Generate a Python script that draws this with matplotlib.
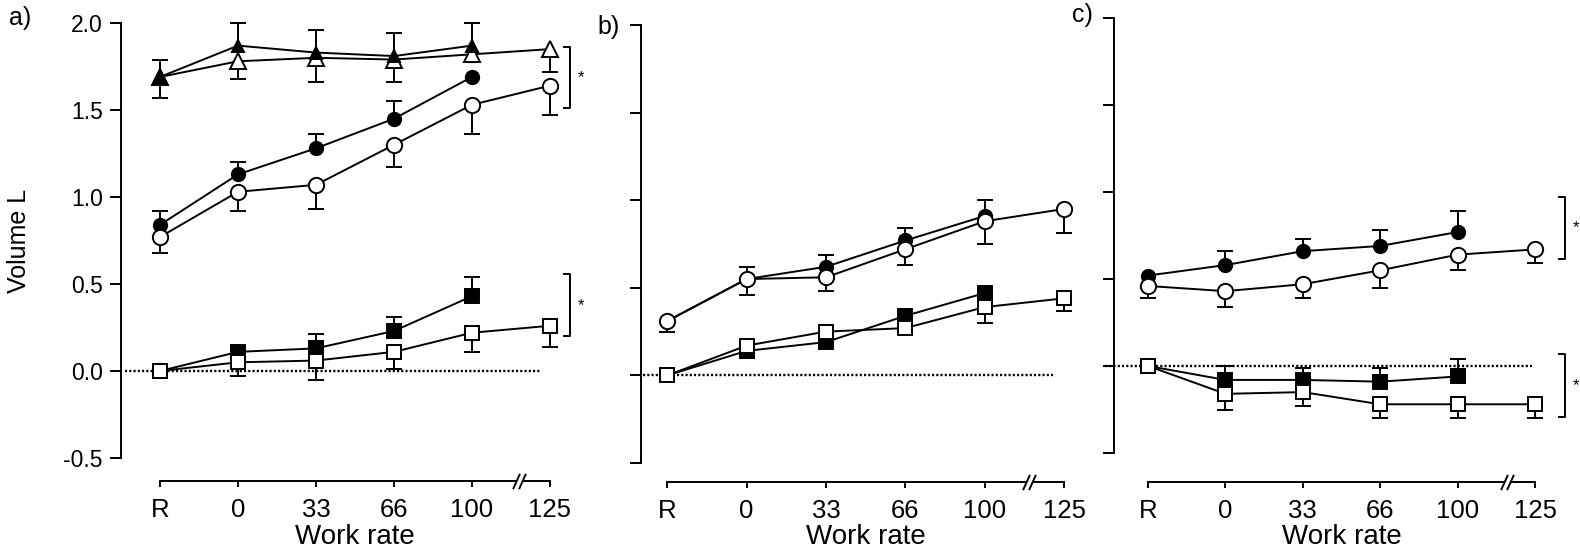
import matplotlib
matplotlib.use('Agg')
import matplotlib.pyplot as plt
import numpy as np
from matplotlib.transforms import blended_transform_factory, ScaledTranslation

plt.rcParams['font.family'] = ['Liberation Sans', 'DejaVu Sans']

nan = np.nan
categories = ['R', '0', '33', '66', '100', '125']
ytick_vals = [-0.5, 0.0, 0.5, 1.0, 1.5, 2.0]
ytick_labels = ['-0.5', '0.0', '0.5', '1.0', '1.5', '2.0']

# ---------------- panel a ----------------
a_tri_closed = [1.69, 1.87, 1.83, 1.81, 1.87]
a_tri_closed_up = [0.10, 0.13, 0.13, 0.13, 0.13]
a_tri_open = [1.69, 1.78, 1.80, 1.79, 1.82, 1.85]
a_tri_open_dn = [0.12, 0.10, 0.14, 0.13, nan, 0.13]
a_circ_closed = [0.84, 1.13, 1.28, 1.45, 1.69]
a_circ_closed_up = [0.08, 0.07, 0.08, 0.10, nan]
a_circ_open = [0.77, 1.03, 1.07, 1.30, 1.53, 1.64]
a_circ_open_dn = [0.09, 0.11, 0.14, 0.13, 0.17, 0.17]
a_sq_closed = [0.0, 0.11, 0.13, 0.23, 0.43]
a_sq_closed_up = [nan, nan, 0.08, 0.08, 0.11]
a_sq_open = [0.0, 0.05, 0.06, 0.11, 0.22, 0.26]
a_sq_open_dn = [nan, 0.08, 0.11, 0.10, 0.11, 0.12]

# ---------------- panel b ----------------
b_circ_closed = [0.31, 0.55, 0.62, 0.77, 0.91]
b_circ_closed_up = [nan, 0.07, 0.07, 0.07, 0.09]
b_circ_open = [0.31, 0.55, 0.56, 0.72, 0.88, 0.95]
b_circ_open_dn = [0.06, 0.09, 0.08, 0.09, 0.13, 0.14]
b_sq_closed = [0.0, 0.14, 0.19, 0.34, 0.47]
b_sq_closed_up = [nan, nan, nan, nan, nan]
b_sq_open = [0.0, 0.17, 0.25, 0.27, 0.39, 0.44]
b_sq_open_dn = [nan, nan, nan, nan, 0.09, 0.07]

# ---------------- panel c ----------------
c_circ_closed = [0.52, 0.58, 0.66, 0.69, 0.77]
c_circ_closed_up = [nan, 0.08, 0.07, 0.09, 0.12]
c_circ_open = [0.46, 0.43, 0.47, 0.55, 0.64, 0.67]
c_circ_open_dn = [0.07, 0.09, 0.08, 0.10, 0.09, 0.08]
c_sq_closed = [0.0, -0.08, -0.08, -0.09, -0.06]
c_sq_closed_up = [nan, 0.08, 0.07, 0.08, 0.10]
c_sq_open = [0.0, -0.16, -0.15, -0.22, -0.22, -0.22]
c_sq_open_dn = [nan, 0.09, 0.08, 0.08, 0.08, 0.08]

W, H, DPI = 15.8, 5.49, 100
fig = plt.figure(figsize=(W, H), dpi=DPI)
LW = 1.4
XLAB_TOP = 524  # px from top where "Work rate" starts


def px_axes(left_px, top_px, bottom_px, xlo, xhi, unit_px):
    width_px = (xhi - xlo) * unit_px
    ax = fig.add_axes([left_px / 1580, 1 - bottom_px / 549,
                       width_px / 1580, (bottom_px - top_px) / 549])
    ax.set_xlim(xlo, xhi)
    ax.set_ylim(-0.5, 2.0)
    ax.patch.set_alpha(0)
    return ax


def errs(ax, y, e, sign):
    y = np.asarray(y, float)
    e = np.asarray(e, float)
    x = np.arange(len(y))
    m = ~np.isnan(e)
    ends = y + sign * e
    ax.vlines(x[m], y[m], ends[m], color='k', lw=LW, zorder=2, clip_on=False)
    ax.plot(x[m], ends[m], ls='none', marker='_', ms=11.5, mew=LW,
            color='k', zorder=2, clip_on=False)


def series(ax, y, marker, filled, ms, z):
    y = np.asarray(y, float)
    x = np.arange(len(y))
    ax.plot(x, y, color='k', lw=LW, marker=marker, ms=ms,
            mfc='k' if filled else 'white', mec='k', mew=LW, zorder=z,
            clip_on=False)


def style(ax, outward_px, show_labels, break_x, unit_px):
    for s in ['top', 'right']:
        ax.spines[s].set_visible(False)
    ax.spines['left'].set_bounds(-0.5, 2.0)
    ax.spines['left'].set_linewidth(LW)
    ax.spines['bottom'].set_linewidth(LW)
    ax.spines['bottom'].set_position(('outward', outward_px * 0.72))
    ax.spines['bottom'].set_bounds(0, 5)
    ax.set_yticks(ytick_vals)
    if show_labels:
        ax.set_yticklabels(ytick_labels, fontsize=16.5)
    else:
        ax.set_yticklabels([])
    ax.set_xticks(range(len(categories)))
    ax.set_xticklabels(categories, fontsize=18.5)
    ax.tick_params(axis='y', direction='out', length=8, width=LW, pad=5)
    ax.tick_params(axis='x', direction='out', length=4.3, width=LW, pad=8)
    # axis break marks
    trans = blended_transform_factory(ax.transData, ax.transAxes) + \
        ScaledTranslation(0, -outward_px / DPI, fig.dpi_scale_trans)
    g = 3.0 / unit_px
    ax.plot([break_x - g, break_x + g], [0, 0], color='white', lw=3,
            transform=trans, clip_on=False, zorder=5, solid_capstyle='butt')
    for bx in (break_x - g, break_x + g):
        ax.plot([bx], [0], marker=[(-0.45, -1), (0.45, 1)], ms=11,
                mec='k', mew=LW, color='k', transform=trans,
                clip_on=False, zorder=6)


def zero_line(ax, x0, x1):
    ax.hlines(0, x0, x1, colors='k', lw=1.7, linestyles=(0, (0.9, 0.9)),
              zorder=1, clip_on=False)


def bracket(ax, x, y0, y1, unit_px):
    t = 6.0 / unit_px
    ax.plot([x - t, x, x, x - t], [y0, y0, y1, y1], color='k', lw=LW,
            clip_on=False)
    ax.text(x + 11.0 / unit_px, (y0 + y1) / 2, '*', fontsize=12,
            ha='center', va='center', clip_on=False)


def xlabel(ax, xlo, xhi, bottom_px, top_px):
    ax.set_xlabel('Work rate', fontsize=20)
    ax.xaxis.set_label_coords((2.5 - xlo) / (xhi - xlo),
                              -(XLAB_TOP - bottom_px) / (bottom_px - top_px))


# ---- panel a ----
ua = 78.0
axa = px_axes(121, 23, 458, -0.5, 5.4, ua)
style(axa, 23, True, 4.6, ua)
zero_line(axa, -0.45, 4.87)
errs(axa, a_tri_closed, a_tri_closed_up, +1)
errs(axa, a_tri_open, a_tri_open_dn, -1)
errs(axa, a_circ_closed, a_circ_closed_up, +1)
errs(axa, a_circ_open, a_circ_open_dn, -1)
errs(axa, a_sq_closed, a_sq_closed_up, +1)
errs(axa, a_sq_open, a_sq_open_dn, -1)
series(axa, a_tri_open, '^', False, 11.5, 3)
series(axa, a_tri_closed, '^', True, 9, 4)
series(axa, a_circ_closed, 'o', True, 9.6, 3)
series(axa, a_circ_open, 'o', False, 11, 4)
series(axa, a_sq_closed, 's', True, 9.4, 3)
series(axa, a_sq_open, 's', False, 10, 4)
bracket(axa, 5.26, 1.51, 1.862, ua)
bracket(axa, 5.26, 0.20, 0.557, ua)
axa.set_ylabel('Volume L', fontsize=18)
axa.yaxis.set_label_coords((31 - 121) / ((5.9) * ua), 0.5)
xlabel(axa, -0.5, 5.4, 458, 23)
fig.text(9 / 1580, 1 - 18 / 549, 'a)', fontsize=18, ha='left', va='center')

# ---- panel b ----
ub = 79.4
axb = px_axes(641, 25, 463, -0.33, 5.4, ub)
style(axb, 19, False, 4.56, ub)
zero_line(axb, -0.3, 4.86)
errs(axb, b_circ_closed, b_circ_closed_up, +1)
errs(axb, b_circ_open, b_circ_open_dn, -1)
errs(axb, b_sq_closed, b_sq_closed_up, +1)
errs(axb, b_sq_open, b_sq_open_dn, -1)
series(axb, b_circ_closed, 'o', True, 9.6, 3)
series(axb, b_circ_open, 'o', False, 11, 4)
series(axb, b_sq_closed, 's', True, 9.4, 3)
series(axb, b_sq_open, 's', False, 10, 4)
xlabel(axb, -0.33, 5.4, 463, 25)
fig.text(597 / 1580, 1 - 27 / 549, 'b)', fontsize=18, ha='left', va='center')

# ---- panel c ----
uc = 77.4
axc = px_axes(1114, 18, 453, -0.44, 5.6, uc)
style(axc, 29, False, 4.64, uc)
zero_line(axc, -0.56, 4.96)
errs(axc, c_circ_closed, c_circ_closed_up, +1)
errs(axc, c_circ_open, c_circ_open_dn, -1)
errs(axc, c_sq_closed, c_sq_closed_up, +1)
errs(axc, c_sq_open, c_sq_open_dn, -1)
series(axc, c_circ_closed, 'o', True, 9.6, 3)
series(axc, c_circ_open, 'o', False, 11, 4)
series(axc, c_sq_closed, 's', True, 9.4, 3)
series(axc, c_sq_open, 's', False, 10, 4)
bracket(axc, 5.39, 0.615, 0.971, uc)
bracket(axc, 5.39, -0.293, 0.069, uc)
xlabel(axc, -0.44, 5.6, 453, 18)
fig.text(1072 / 1580, 1 - 15 / 549, 'c)', fontsize=18, ha='left', va='center')

fig.savefig('out.png', dpi=DPI)
